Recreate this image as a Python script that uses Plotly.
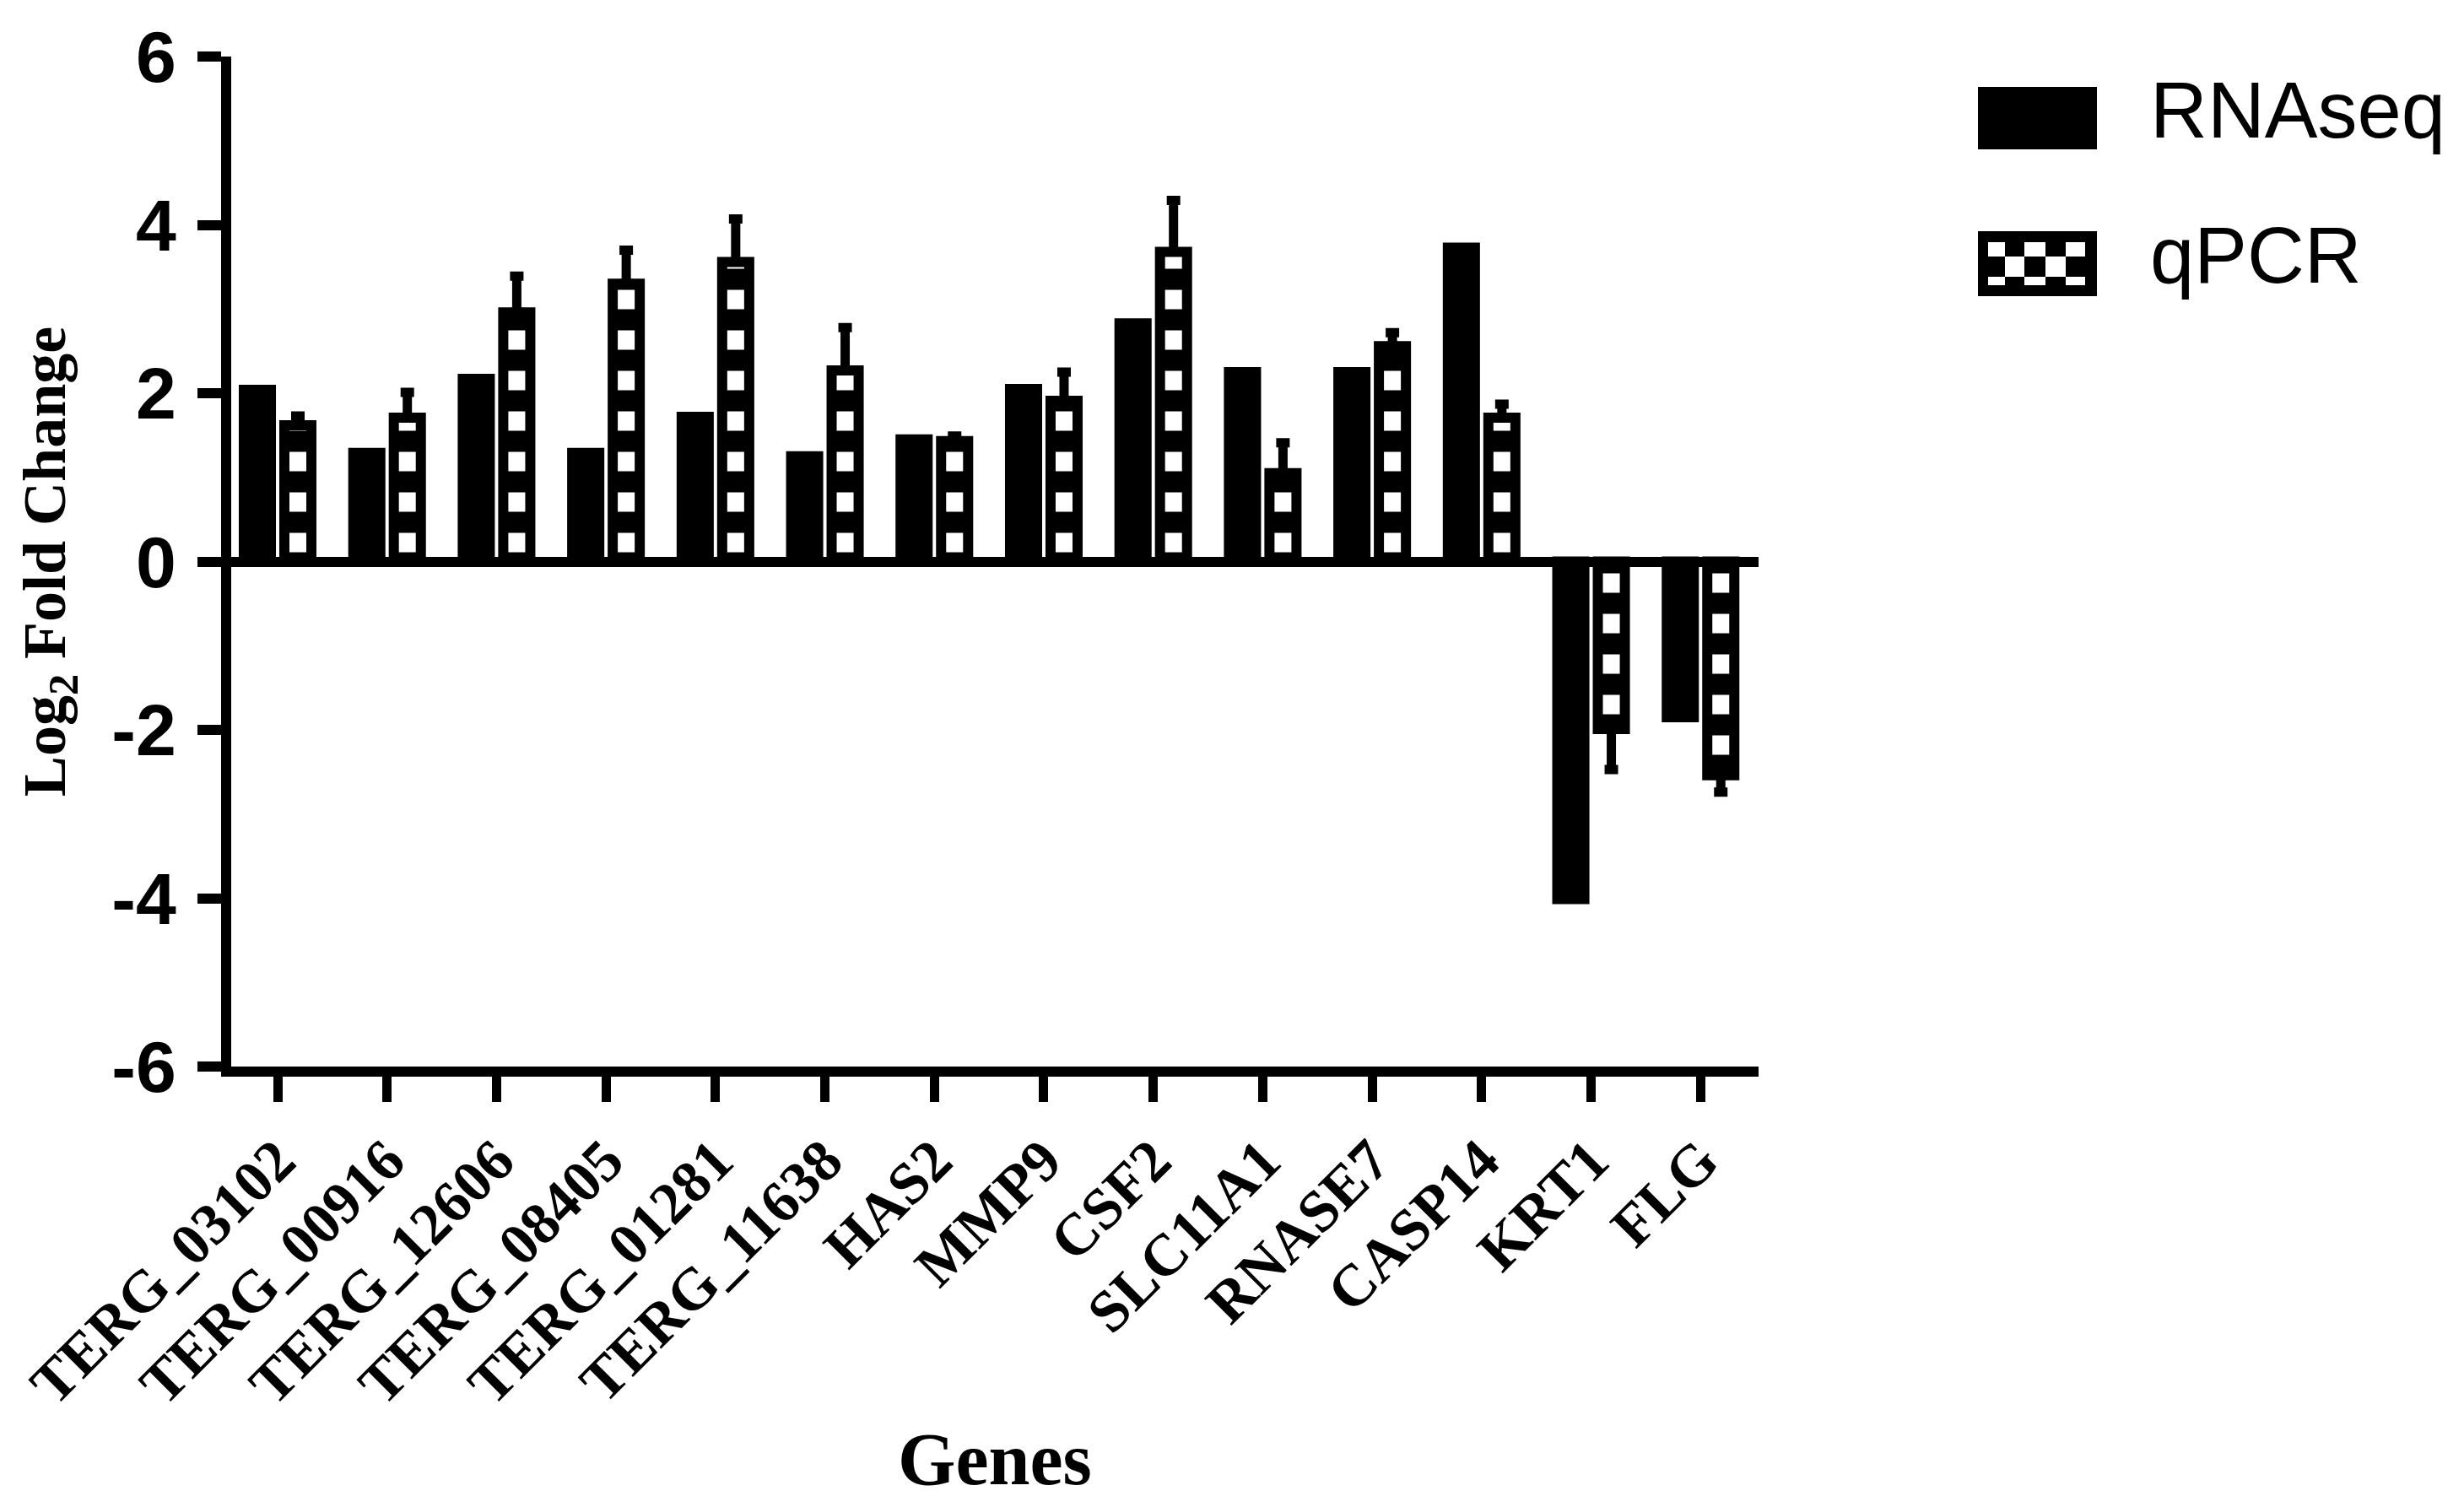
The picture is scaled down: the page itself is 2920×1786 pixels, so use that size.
import plotly.graph_objects as go

genes = ["TERG_03102", "TERG_00916", "TERG_12606", "TERG_08405", "TERG_01281",
         "TERG_11638", "HAS2", "MMP9", "CSF2", "SLC11A1", "RNASE7", "CASP14",
         "KRT1", "FLG"]
rnaseq = [2.04, 1.29, 2.17, 1.29, 1.72, 1.25, 1.45, 2.05, 2.83, 2.25, 2.25, 3.73, -4.01, -1.85]
qpcr = [1.62, 1.71, 2.96, 3.30, 3.56, 2.27, 1.43, 1.91, 3.68, 1.05, 2.56, 1.71, -1.99, -2.54]
qpcr_err = [0.11, 0.30, 0.43, 0.40, 0.51, 0.51, 0.06, 0.34, 0.61, 0.36, 0.16, 0.16, 0.48, 0.20]

y_tick_vals = [6, 4, 2, 0, -2, -4, -6]
y_tick_text = ["6", "4", "2", "0", "-2", "-4", "-6"]

# error bars point away from zero
err_plus = [e if v >= 0 else 0 for v, e in zip(qpcr, qpcr_err)]
err_minus = [0 if v >= 0 else e for v, e in zip(qpcr, qpcr_err)]

W, H = 2920, 1786
L, R, T, B = 266, 2920 - 2076, 59, 1786 - 1256
PW, PH = W - L - R, H - T - B


def px(x):
    return (x - L) / PW


def py(y):
    return (H - B - y) / PH


BAR_W = 0.247
LINE_W = 12

fig = go.Figure()
fig.add_trace(go.Bar(
    x=genes, y=rnaseq, name="RNAseq",
    width=BAR_W, offset=-0.185 - BAR_W / 2,
    marker=dict(color="black", line=dict(color="black", width=LINE_W)),
    showlegend=False,
))
fig.add_trace(go.Bar(
    x=genes, y=qpcr, name="qPCR",
    width=BAR_W, offset=0.185 - BAR_W / 2,
    marker=dict(color="white", line=dict(color="black", width=LINE_W),
                pattern=dict(shape="-", fgcolor="black", bgcolor="white",
                             size=48, solidity=0.52, fillmode="replace")),
    error_y=dict(type="data", symmetric=False, array=err_plus, arrayminus=err_minus,
                 color="black", thickness=11, width=8),
    showlegend=False,
))

fig.update_layout(
    width=W, height=H,
    margin=dict(l=L, r=R, t=T, b=B, autoexpand=False),
    paper_bgcolor="white", plot_bgcolor="white",
    barmode="overlay",
    xaxis=dict(
        range=[-0.424, 13.53],
        showgrid=False, zeroline=False,
        showline=True, linecolor="black", linewidth=12,
        ticks="outside", ticklen=30, tickwidth=11, tickcolor="black",
        tickangle=-45,
        tickfont=dict(family="Liberation Serif", size=70, color="black", weight="bold"),
        title=dict(text="Genes", standoff=24,
                   font=dict(family="Liberation Serif", size=88, color="black", weight="bold")),
    ),
    yaxis=dict(
        range=[-6, 6],
        tickvals=y_tick_vals, ticktext=y_tick_text,
        showgrid=False,
        zeroline=True, zerolinecolor="black", zerolinewidth=12,
        showline=True, linecolor="black", linewidth=12,
        ticks="outside", ticklen=28, tickwidth=12, tickcolor="black",
        ticklabelstandoff=8,
        tickfont=dict(family="Liberation Sans", size=86, color="black", weight="bold"),
        title=dict(text="Log<sub>2</sub> Fold Change", standoff=36,
                   font=dict(family="Liberation Serif", size=72, color="black", weight="bold")),
    ),
)

# custom legend (large swatches as in the original figure)
shapes = []
shapes.append(dict(type="rect", xref="paper", yref="paper",
                   x0=px(2336), x1=px(2477), y0=py(169), y1=py(95),
                   fillcolor="black", line=dict(width=0)))
shapes.append(dict(type="rect", xref="paper", yref="paper",
                   x0=px(2336), x1=px(2477), y0=py(343), y1=py(266),
                   fillcolor="black", line=dict(width=0)))
cols = [(2348, 2368), (2368, 2391), (2391, 2416), (2416, 2440), (2440, 2463)]
rows = [(279, 296, [0, 2, 4]), (296, 320, [1, 3]), (320, 330, [0, 2, 4])]
for (ya, yb, idx) in rows:
    for i in idx:
        xa, xb = cols[i]
        shapes.append(dict(type="rect", xref="paper", yref="paper",
                           x0=px(xa), x1=px(xb), y0=py(yb), y1=py(ya),
                           fillcolor="white", line=dict(width=0)))
fig.update_layout(shapes=shapes)

legend_font = dict(family="Liberation Sans", size=94, color="black")
fig.add_annotation(x=px(2538), y=py(122), xref="paper", yref="paper", text="RNAseq",
                   showarrow=False, xanchor="left", yanchor="middle", font=legend_font)
fig.add_annotation(x=px(2538), y=py(294), xref="paper", yref="paper", text="qPCR",
                   showarrow=False, xanchor="left", yanchor="middle", font=legend_font)

fig.write_html("out.html")
